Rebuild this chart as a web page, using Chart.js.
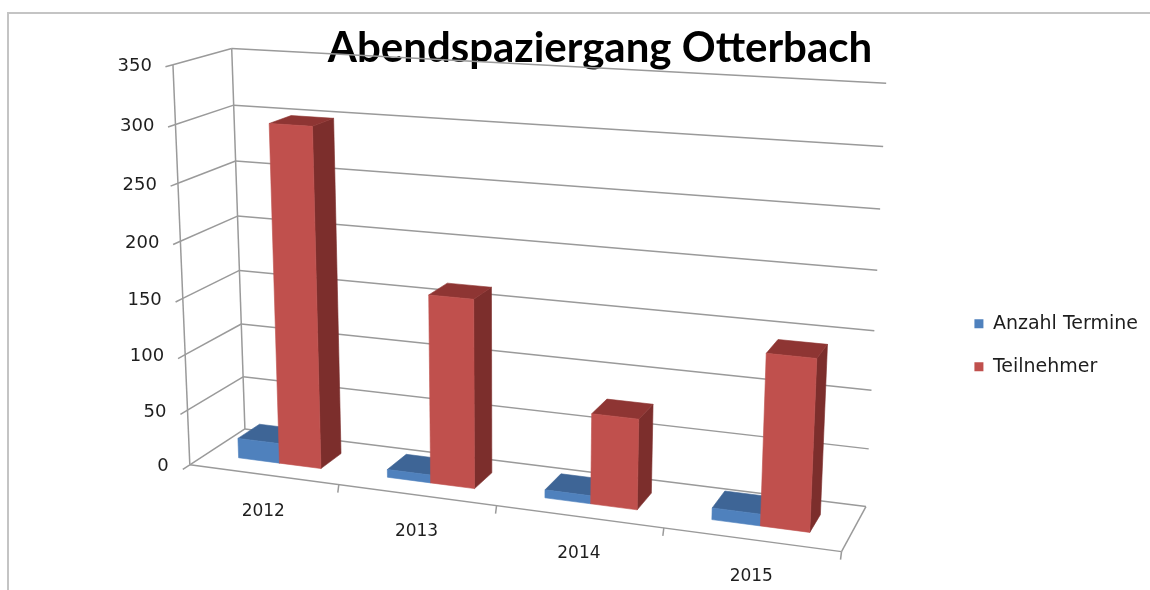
<!DOCTYPE html>
<html>
<head>
<meta charset="utf-8">
<script src="https://cdn.jsdelivr.net/npm/chart.js@4.4.0/dist/chart.umd.min.js"></script>
<style>
  html, body { margin: 0; padding: 0; background: #fff; }
  #wrap { width: 1150px; height: 590px; }
</style>
</head>
<body>
<div id="wrap"><canvas id="chart"></canvas></div>
<script>
var years = ['2012', '2013', '2014', '2015'];
var termine = [18, 7, 7, 10];
var teilnehmer = [300, 165, 78, 144];
var yMax = 350;
var yStep = 50;

var blue = { front: '#4f81bd', top: '#3e6596', side: '#35577f' };
var red = { front: '#c0504d', top: '#8e3533', side: '#7c2e2c' };

// box corners [x (categories), y (0..1 of value axis), z (0 front .. 1 back)] -> screen px
var anchors = [
  [[0, 0, 0], [192, 463]],
  [[0, 1, 0], [172, 65]],
  [[0, 1, 1], [233, 48]],
  [[0, 0, 1], [243, 430]],
  [[4, 1, 1], [887, 83]],
  [[4, 0, 1], [867, 505]],
  [[4, 0, 0], [840, 552]],
  [[1, 0, 0], [340, 486]],
  [[2, 0, 0], [497, 506]],
  [[3, 0, 0], [663, 529]],
  [[0, 300 / 350, 1], [233, 106]],
  [[4, 300 / 350, 1], [883, 147]],
  [[4, 200 / 350, 1], [877, 270]],
  [[0, 150 / 350, 0], [182, 297]]
];

// least squares fit of a 3x4 projection (last entry fixed to 1)
function fitCamera(pts) {
  var rows = [], rhs = [];
  pts.forEach(function(p) {
    var X = p[0][0], Y = p[0][1], Z = p[0][2];
    var u = (p[1][0] - 575) / 575, v = (p[1][1] - 295) / 295;
    rows.push([X, Y, Z, 1, 0, 0, 0, 0, -u * X, -u * Y, -u * Z]); rhs.push(u);
    rows.push([0, 0, 0, 0, X, Y, Z, 1, -v * X, -v * Y, -v * Z]); rhs.push(v);
  });
  var n = 11, M = [];
  for (var i = 0; i < n; i++) {
    M.push([]);
    for (var j = 0; j <= n; j++) {
      var s = 0;
      for (var k = 0; k < rows.length; k++) s += rows[k][i] * (j < n ? rows[k][j] : rhs[k]);
      M[i].push(s);
    }
  }
  for (var c = 0; c < n; c++) {
    var piv = c;
    for (var r = c + 1; r < n; r++) if (Math.abs(M[r][c]) > Math.abs(M[piv][c])) piv = r;
    var tmp = M[c]; M[c] = M[piv]; M[piv] = tmp;
    for (var r2 = 0; r2 < n; r2++) {
      if (r2 === c) continue;
      var f = M[r2][c] / M[c][c];
      for (var j2 = c; j2 <= n; j2++) M[r2][j2] -= f * M[c][j2];
    }
  }
  return M.map(function(row, i) { return row[n] / row[i]; });
}

var P = fitCamera(anchors);

function project(X, Y, Z) {
  var w = P[8] * X + P[9] * Y + P[10] * Z + 1;
  var u = (P[0] * X + P[1] * Y + P[2] * Z + P[3]) / w;
  var v = (P[4] * X + P[5] * Y + P[6] * Z + P[7]) / w;
  return [u * 575 + 575, v * 295 + 295];
}

function line(ctx, a, b) {
  ctx.beginPath();
  ctx.moveTo(a[0], a[1]);
  ctx.lineTo(b[0], b[1]);
  ctx.stroke();
}

function face(ctx, pts, color) {
  ctx.beginPath();
  ctx.moveTo(pts[0][0], pts[0][1]);
  for (var i = 1; i < pts.length; i++) ctx.lineTo(pts[i][0], pts[i][1]);
  ctx.closePath();
  ctx.fillStyle = color;
  ctx.fill();
  ctx.strokeStyle = color;
  ctx.lineWidth = 0.6;
  ctx.stroke();
}

function box(ctx, x0, x1, h, z0, z1, col) {
  face(ctx, [project(x1, 0, z0), project(x1, 0, z1), project(x1, h, z1), project(x1, h, z0)], col.side);
  face(ctx, [project(x0, h, z0), project(x1, h, z0), project(x1, h, z1), project(x0, h, z1)], col.top);
  face(ctx, [project(x0, 0, z0), project(x1, 0, z0), project(x1, h, z0), project(x0, h, z0)], col.front);
}

var depthFront = 0.3, depthBack = 0.7;

var scene3d = {
  id: 'scene3d',
  beforeDraw: function(chart) {
    var ctx = chart.ctx;
    ctx.save();
    ctx.fillStyle = '#fff';
    ctx.fillRect(0, 0, chart.width, chart.height);
    ctx.strokeStyle = '#c4c4c4';
    ctx.lineWidth = 2;
    ctx.strokeRect(8, 13, chart.width + 20, chart.height + 20);
    ctx.restore();
  },
  beforeDatasetsDraw: function(chart) {
    var ctx = chart.ctx, xs = chart.scales.x, ys = chart.scales.y;
    var nCat = years.length;
    function fx(px) { return (px - xs.left) / (xs.right - xs.left) * nCat; }
    function fy(py) { return (ys.bottom - py) / (ys.bottom - ys.top); }

    ctx.save();
    ctx.strokeStyle = '#9a9a9a';
    ctx.lineWidth = 1.5;
    ctx.fillStyle = '#1e1e1e';
    ctx.font = '18px "DejaVu Sans"';
    ctx.textBaseline = 'middle';

    // walls: gridlines on side and back, value ticks and labels
    ys.ticks.forEach(function(t) {
      var h = fy(ys.getPixelForValue(t.value));
      var f = project(0, h, 0);
      line(ctx, project(0, h, -0.12), f);
      line(ctx, f, project(0, h, 1));
      line(ctx, project(0, h, 1), project(nCat, h, 1));
      ctx.textAlign = 'right';
      ctx.fillText(t.label, f[0] - 21, f[1] + 2);
    });
    line(ctx, project(0, 0, 0), project(0, 1, 0));
    line(ctx, project(0, 0, 1), project(0, 1, 1));

    // floor edges and category ticks
    line(ctx, project(0, 0, 0), project(nCat, 0, 0));
    line(ctx, project(nCat, 0, 0), project(nCat, 0, 1));
    for (var k = 1; k <= nCat; k++) {
      var b = project(k, 0, 0);
      line(ctx, b, [b[0] - 1, b[1] + 8]);
    }
    ctx.font = '17px "DejaVu Sans"';
    ctx.textAlign = 'center';
    xs.getLabels().forEach(function(lab, i) {
      var c = project(fx(xs.getPixelForValue(i)), 0, 0);
      ctx.fillText(lab, c[0], c[1] + 37);
    });

    // bars, back to front: left to right, series in order
    var cols = [blue, red];
    for (var i = 0; i < nCat; i++) {
      chart.data.datasets.forEach(function(ds, d) {
        var el = chart.getDatasetMeta(d).data[i];
        var x0 = fx(el.x - el.width / 2), x1 = fx(el.x + el.width / 2);
        box(ctx, x0, x1, fy(el.y), depthFront, depthBack, cols[d]);
      });
    }
    ctx.restore();
    return false;
  }
};

new Chart(document.getElementById('chart'), {
  type: 'bar',
  data: {
    labels: years,
    datasets: [
      { label: 'Anzahl Termine', data: termine, backgroundColor: blue.front, borderWidth: 0 },
      { label: 'Teilnehmer', data: teilnehmer, backgroundColor: red.front, borderWidth: 0 }
    ]
  },
  options: {
    responsive: true,
    maintainAspectRatio: false,
    animation: false,
    layout: { padding: { left: 52, right: 2, top: 0, bottom: 0 } },
    datasets: { bar: { categoryPercentage: 0.56, barPercentage: 1 } },
    scales: {
      x: { display: false },
      y: { display: false, min: 0, max: yMax, ticks: { stepSize: yStep } }
    },
    plugins: {
      title: {
        display: true,
        text: 'Abendspaziergang Otterbach',
        color: '#000',
        font: { family: 'Lato', size: 42, weight: 'bold' },
        padding: { top: 23, bottom: 27 }
      },
      legend: {
        position: 'right',
        fullSize: false,
        labels: {
          color: '#1e1e1e',
          font: { family: 'DejaVu Sans', size: 19 },
          boxWidth: 9,
          boxHeight: 9,
          padding: 24
        }
      },
      tooltip: { enabled: false }
    }
  },
  plugins: [scene3d]
});
</script>
</body>
</html>
